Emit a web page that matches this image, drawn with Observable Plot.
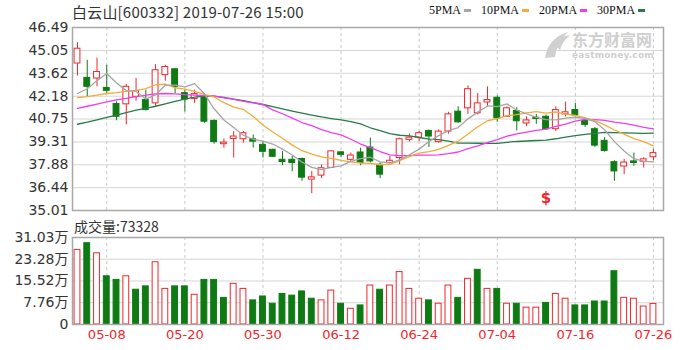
<!DOCTYPE html>
<html>
<head>
<meta charset="utf-8">
<script src="https://cdn.jsdelivr.net/npm/d3@7"></script>
<script src="https://cdn.jsdelivr.net/npm/@observablehq/plot@0.6"></script>
<style>
  html, body { margin: 0; padding: 0; background: #fff; }
  #wrap { position: relative; width: 700px; height: 350px; overflow: hidden; background: #fff; }
  .abs { position: absolute; }
  #title { left: 72px; top: 1px; font: 15px "Noto Sans CJK SC", sans-serif; letter-spacing: 0.2px; color: #333; white-space: nowrap; }
  #legend { left: 429px; top: 3px; display: flex; align-items: center; font: 12px "Liberation Serif", serif; color: #111; white-space: nowrap; }
  #legend .sw { display: inline-block; width: 7px; height: 3px; margin: 0 10px 0 3px; }
  #volLabel { left: 74px; top: 216px; font: 14px "Noto Sans CJK SC", sans-serif; color: #333; white-space: nowrap; }
  #wm { left: 540px; top: 30px; width: 123px; height: 32px; }
  #wm .cn { position: absolute; left: 32px; top: 0px; font: bold 16px/19px "Noto Sans CJK SC", sans-serif; color: #cfcfcf; white-space: nowrap; }
  #wm .en { position: absolute; left: 32px; top: 20px; font: bold 9px/10px "DejaVu Sans", sans-serif; color: #cfcfcf; letter-spacing: 0.2px; white-space: nowrap; }
</style>
</head>
<body>
<div id="wrap">
  <div id="price" class="abs" style="left:0;top:0"></div>
  <div id="vol" class="abs" style="left:0;top:220px"></div>
  <div id="title" class="abs"></div>
  <div id="legend" class="abs"></div>
  <div id="volLabel" class="abs"></div>
  <div id="wm" class="abs">
    <svg width="30" height="30" style="position:absolute;left:2px;top:0"><path d="M3,28 Q6,8 26,2 Q15,12 13,27 Z M12,14 Q18,6 28,5 Q20,12 18,20 Z" fill="#d0d0d0"/></svg>
    <div class="cn">东方财富网</div>
    <div class="en">eastmoney.com</div>
  </div>
</div>
<script>
// ---------- data ----------
const stockName = "白云山[600332]";
const stamp = "2019-07-26 15:00";
const lastVolume = 73328;

const dates = ["04-30","05-06","05-07","05-08","05-09","05-10","05-13","05-14","05-15","05-16",
  "05-17","05-20","05-21","05-22","05-23","05-24","05-27","05-28","05-29","05-30",
  "05-31","06-03","06-04","06-05","06-06","06-10","06-11","06-12","06-13","06-14",
  "06-17","06-18","06-19","06-20","06-21","06-24","06-25","06-26","06-27","06-28",
  "07-01","07-02","07-03","07-04","07-05","07-08","07-09","07-10","07-11","07-12",
  "07-15","07-16","07-17","07-18","07-19","07-22","07-23","07-24","07-25","07-26"];

const open  = [44.23,43.33,43.29,42.70,41.69,41.67,42.14,41.94,41.73,43.50,
  43.87,42.37,42.00,42.19,40.63,39.17,39.50,39.48,39.48,39.13,
  38.82,38.19,38.19,38.24,36.95,37.20,37.68,38.66,38.19,38.65,
  38.96,37.88,37.99,38.30,39.44,39.58,40.00,39.30,39.96,41.21,
  41.42,41.11,41.79,42.08,40.89,41.25,40.47,40.83,40.89,40.11,
  41.04,41.31,40.63,40.11,39.38,38.04,37.77,38.09,38.07,38.35];
const high  = [45.54,44.43,44.57,44.12,41.83,42.92,43.29,42.56,44.16,44.12,
  43.90,42.56,42.56,42.35,40.69,39.50,39.96,39.96,39.75,39.33,
  38.85,38.71,38.40,38.30,37.46,37.88,38.75,38.68,38.61,38.92,
  39.55,37.99,38.40,39.55,39.80,39.98,40.06,40.06,41.17,41.52,
  42.83,42.35,42.77,42.20,41.50,41.46,40.89,41.04,41.00,41.52,
  41.81,41.73,40.69,40.21,39.58,38.13,38.22,38.61,38.32,38.85];
const low   = [43.45,42.14,42.77,42.31,40.64,40.38,41.87,41.25,41.52,43.12,
  42.35,41.19,41.73,40.48,39.17,38.92,38.30,39.23,38.92,38.30,
  38.34,37.82,37.44,36.85,36.07,37.01,37.66,38.32,38.09,37.82,
  37.99,37.01,37.93,37.88,39.30,39.33,38.96,39.23,39.80,40.48,
  41.04,41.00,41.52,40.54,40.85,40.00,40.27,40.42,40.05,39.97,
  40.88,40.88,40.22,38.96,38.67,36.84,37.26,37.78,37.68,38.13];
const close = [45.16,42.77,43.70,42.52,40.89,42.77,42.50,41.31,43.81,44.01,
  42.77,41.97,42.31,40.58,39.30,39.27,39.65,39.86,39.33,38.69,
  38.38,38.05,37.99,37.07,37.09,37.66,38.72,38.50,38.46,37.99,
  38.09,37.26,38.13,39.48,39.58,39.86,39.65,39.96,41.04,40.54,
  42.62,41.73,41.94,40.79,41.42,40.61,40.66,40.75,40.11,41.31,
  41.17,40.97,40.38,39.08,38.74,37.46,38.02,37.99,38.22,38.61];

const ma5  = [42.35,42.65,43.15,43.60,43.01,42.53,42.48,42.00,42.26,42.88,
  42.88,42.77,42.97,42.33,41.39,40.69,40.22,39.73,39.48,39.36,
  39.18,38.86,38.49,38.04,37.72,37.57,37.71,37.81,38.09,38.27,
  38.35,38.06,37.99,38.19,38.51,38.86,39.34,39.71,40.02,40.21,
  40.76,41.18,41.57,41.52,41.70,41.30,41.08,40.85,40.71,40.69,
  40.80,40.86,40.79,40.58,40.07,39.33,38.74,38.26,38.09,38.06];
const ma10 = [42.10,42.15,42.25,42.35,42.40,42.48,42.55,42.65,42.90,42.94,
  42.71,42.63,42.49,42.29,42.13,41.78,41.50,41.35,40.91,40.37,
  39.93,39.54,39.11,38.76,38.54,38.38,38.28,38.15,38.06,37.99,
  37.96,37.88,37.90,38.14,38.39,38.61,38.70,38.85,39.10,39.36,
  39.81,40.26,40.64,40.77,40.96,41.03,41.13,41.21,41.12,41.19,
  41.05,40.97,40.82,40.65,40.38,40.06,39.80,39.52,39.33,39.06];
const ma20 = [41.42,41.55,41.68,41.82,41.95,42.05,42.15,42.25,42.33,42.35,
  42.33,42.28,42.25,42.22,42.18,42.08,41.98,41.86,41.76,41.66,
  41.32,41.08,40.80,40.53,40.34,40.08,39.89,39.75,39.48,39.18,
  38.95,38.71,38.50,38.45,38.46,38.49,38.49,38.50,38.58,38.68,
  38.89,39.07,39.27,39.45,39.67,39.82,39.92,40.03,40.11,40.28,
  40.43,40.62,40.73,40.71,40.67,40.55,40.47,40.37,40.23,40.13];
const ma30 = [40.42,40.55,40.70,40.85,41.00,41.15,41.30,41.42,41.55,41.70,
  41.85,42.00,42.12,42.18,42.18,42.10,42.00,41.90,41.78,41.66,
  41.52,41.38,41.25,41.12,41.00,40.88,40.78,40.69,40.58,40.44,
  40.20,40.02,39.83,39.73,39.69,39.59,39.49,39.45,39.36,39.24,
  39.24,39.23,39.22,39.22,39.29,39.34,39.37,39.40,39.43,39.51,
  39.61,39.71,39.78,39.85,39.91,39.90,39.88,39.86,39.85,39.87];

// volume in 万 (10k)
const volume = [26.6,29.0,25.4,17.2,15.9,17.2,12.4,13.6,22.2,12.7,
  13.6,13.6,10.6,15.9,15.9,9.5,14.5,12.7,8.6,10.0,
  7.4,10.9,10.3,11.8,9.2,8.6,12.1,7.4,5.6,6.8,
  13.9,12.4,13.9,18.7,12.7,9.2,8.6,7.4,13.9,9.5,
  16.3,19.5,12.7,12.7,7.4,7.4,6.0,6.0,7.7,10.9,
  9.2,6.8,6.8,8.2,8.2,19.0,9.5,9.2,6.4,7.3328];
// 1 = red (up) bar, 0 = green (down) bar
const volUp = [1,0,1,0,0,1,0,0,1,1, 0,0,1,0,0,0,1,1,0,0,
  0,0,0,0,0,1,1,0,1,0, 1,0,1,1,1,1,0,1,1,0,
  1,0,1,0,1,0,1,1,0,1, 1,0,0,0,0,0,1,1,1,1];

const priceTicks = [35.01,36.44,37.88,39.31,40.75,42.18,43.62,45.05,46.49];
const volTicks = [0,7.76,15.52,23.28,31.03];
const xTickDates = ["05-08","05-20","05-30","06-12","06-24","07-04","07-16","07-26"];
const exDividend = ["07-11"];

const maNames = ["5PMA","10PMA","20PMA","30PMA"];
const maColors = ["#a6a6a6","#f2ac3c","#f23cf2","#2b7a4b"];

// ---------- build ----------
const RED = "#f2262b", GREEN = "#0f7a14";
const rows = dates.map((d, i) => ({
  i, date: d, open: open[i], high: high[i], low: low[i], close: close[i],
  ma5: ma5[i], ma10: ma10[i], ma20: ma20[i], ma30: ma30[i],
  vol: volume[i], vup: volUp[i] === 1, up: close[i] >= open[i]
}));
const ups = rows.filter(r => r.up), downs = rows.filter(r => !r.up);
const xTicks = xTickDates.map(d => dates.indexOf(d));
const xDomain = [-0.51, 60.03];
const HW = 0.3;
const font = "'DejaVu Sans','Noto Sans CJK SC',sans-serif";

const price = Plot.plot({
  width: 700, height: 215,
  marginLeft: 72, marginRight: 37, marginTop: 27, marginBottom: 5,
  style: {background: "transparent", fontFamily: font, fontSize: "14px", color: "#333", overflow: "visible"},
  x: {type: "linear", domain: xDomain, axis: null},
  y: {domain: [priceTicks[0], priceTicks[priceTicks.length - 1]], ticks: priceTicks,
      tickFormat: d => d.toFixed(2), tickSize: 0, tickPadding: 4, label: null},
  marks: [
    Plot.ruleY(priceTicks.slice(1, -1), {stroke: "#d5d5d5"}),
    Plot.ruleX(xTicks, {stroke: "#c8c8c8", strokeDasharray: "3,3"}),
    Plot.ruleX(rows, {x: "i", y1: "low", y2: "high", stroke: r => r.up ? RED : GREEN}),
    Plot.rect(downs, {x1: r => r.i - HW, x2: r => r.i + HW, y1: "open", y2: "close", fill: GREEN, stroke: GREEN}),
    Plot.rect(ups, {x1: r => r.i - HW, x2: r => r.i + HW, y1: "open", y2: "close", fill: "#fff", stroke: RED}),
    Plot.line(rows, {x: "i", y: "ma30", stroke: maColors[3], strokeWidth: 1.3}),
    Plot.line(rows, {x: "i", y: "ma20", stroke: maColors[2], strokeWidth: 1.3}),
    Plot.line(rows, {x: "i", y: "ma10", stroke: maColors[1], strokeWidth: 1.3}),
    Plot.line(rows, {x: "i", y: "ma5", stroke: maColors[0], strokeWidth: 1.3}),
    Plot.text(exDividend, {x: d => dates.indexOf(d), text: () => "$", frameAnchor: "bottom", dy: -8,
      fill: RED, fontSize: 15, fontWeight: "bold"}),
    Plot.frame({stroke: "#a8a8a8", strokeWidth: 1.5})
  ]
});
document.getElementById("price").appendChild(price);

const vol = Plot.plot({
  width: 700, height: 130,
  marginLeft: 72, marginRight: 37, marginTop: 17, marginBottom: 26,
  style: {background: "transparent", fontFamily: font, fontSize: "14px", color: "#333", overflow: "visible"},
  x: {type: "linear", domain: xDomain, axis: null},
  y: {domain: [0, volTicks[volTicks.length - 1]], ticks: volTicks,
      tickFormat: d => d === 0 ? "0" : d.toFixed(2) + "万", tickSize: 0, tickPadding: 4, label: null},
  marks: [
    Plot.ruleY(volTicks.slice(1, -1), {stroke: "#d5d5d5"}),
    Plot.ruleX(xTicks, {stroke: "#c8c8c8", strokeDasharray: "3,3"}),
    Plot.rect(rows.filter(r => !r.vup), {x1: r => r.i - HW, x2: r => r.i + HW, y1: 0, y2: "vol", fill: GREEN, stroke: GREEN}),
    Plot.rect(rows.filter(r => r.vup), {x1: r => r.i - HW, x2: r => r.i + HW, y1: 0, y2: "vol", fill: "#fff", stroke: RED}),
    Plot.frame({stroke: "#a8a8a8", strokeWidth: 1.5}),
    Plot.text(xTicks, {x: d => d, text: d => dates[d], frameAnchor: "bottom", dy: 14, fill: RED, fontSize: 13})
  ]
});
document.getElementById("vol").appendChild(vol);

document.getElementById("title").textContent = stockName + " " + stamp;
document.getElementById("volLabel").textContent = "成交量:" + lastVolume;
const lg = document.getElementById("legend");
maNames.forEach((n, k) => {
  const t = document.createElement("span"); t.textContent = n; lg.appendChild(t);
  const s = document.createElement("span"); s.className = "sw"; s.style.background = maColors[k]; lg.appendChild(s);
});
</script>
</body>
</html>
